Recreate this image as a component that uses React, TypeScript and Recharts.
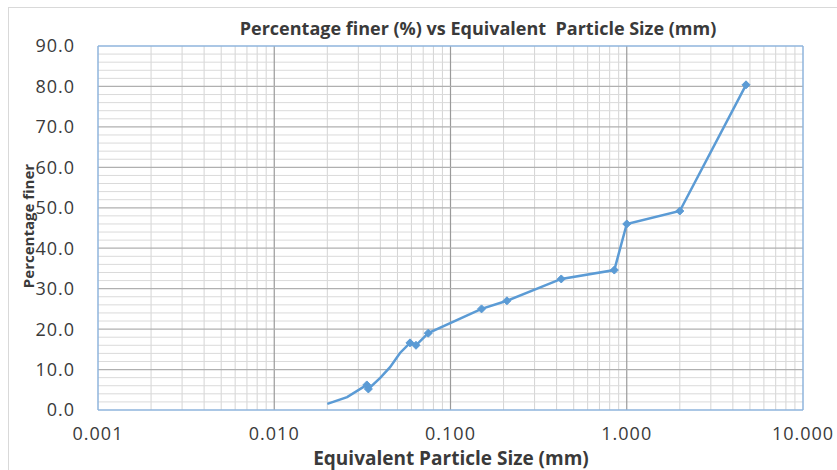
import React from "react";
import { LineChart, Line, XAxis, YAxis, ReferenceLine } from "recharts";

const sizes = [0.020, 0.0259, 0.0335, 0.0342, 0.0398, 0.0454, 0.0517, 0.0589, 0.0637, 0.0748, 0.150, 0.209, 0.425, 0.85, 1.0, 2.0, 4.75];
const finer = [1.5, 3.2, 6.2, 5.2, 7.9, 10.6, 14.1, 16.6, 16.0, 19.0, 25.0, 27.0, 32.4, 34.6, 46.0, 49.2, 80.4];
const marked = [false, false, true, true, false, false, false, true, true, true, true, true, true, true, true, true, true];

const xTicks = [0.001, 0.01, 0.1, 1, 10];
const yTicks = [0, 10, 20, 30, 40, 50, 60, 70, 80, 90];
const xMajorGrid = [0.01, 0.1, 1];
const xMinorGrid = [
  0.002, 0.003, 0.004, 0.005, 0.006, 0.007, 0.008, 0.009,
  0.02, 0.03, 0.04, 0.05, 0.06, 0.07, 0.08, 0.09,
  0.2, 0.3, 0.4, 0.5, 0.6, 0.7, 0.8, 0.9,
  2, 3, 4, 5, 6, 7, 8, 9,
];
const yMajorGrid = [10, 20, 30, 40, 50, 60, 70, 80];
const yMinorGrid = [2, 4, 6, 8, 12, 14, 16, 18, 22, 24, 26, 28, 32, 34, 36, 38, 42, 44, 46, 48, 52, 54, 56, 58, 62, 64, 66, 68, 72, 74, 76, 78, 82, 84, 86, 88];

const data = sizes.map((s, i) => ({ size: s, finer: finer[i], m: marked[i] }));

const LINE = "#5b9bd5";
const BORDER = "#8fb4dc";
const FONT = "'Open Sans', sans-serif";

const Diamond = (props: any) => {
  const { cx, cy, payload, index } = props;
  if (!payload || !payload.m || cx == null || cy == null) return <g key={index} />;
  const r = 4;
  return (
    <path
      key={index}
      d={`M${cx},${cy - r}L${cx + r},${cy}L${cx},${cy + r}L${cx - r},${cy}Z`}
      fill={LINE}
      stroke={LINE}
      strokeWidth={1}
    />
  );
};

export default function App() {
  return (
    <div style={{ position: "absolute", left: 0, top: 0, width: 837, height: 470, background: "#fff", fontFamily: FONT, overflow: "hidden" }}>
      <div style={{ position: "absolute", left: 8, top: 7, width: 840, height: 480, border: "1px solid #d9d9d9", boxSizing: "border-box" }} />
      <LineChart
        width={837}
        height={470}
        data={data}
        margin={{ top: 46, right: 34, bottom: 0, left: 28 }}
      >
        <XAxis
          dataKey="size"
          type="number"
          scale="log"
          domain={[0.001, 10]}
          ticks={xTicks}
          allowDataOverflow
          tickFormatter={(v: number) => v.toFixed(3)}
          height={60}
          tickSize={0}
          tickMargin={17}
          axisLine={{ stroke: BORDER, strokeWidth: 1.5 }}
          tick={{ fill: "#3a3a3a", fontSize: 18, fontFamily: FONT, letterSpacing: 1 }}
        />
        <YAxis
          type="number"
          domain={[0, 90]}
          ticks={yTicks}
          allowDataOverflow
          tickFormatter={(v: number) => v.toFixed(1)}
          width={70}
          tickSize={0}
          tickMargin={23}
          axisLine={{ stroke: BORDER, strokeWidth: 1.5 }}
          tick={{ fill: "#3a3a3a", fontSize: 18, fontFamily: FONT, letterSpacing: 1 }}
        />
        {xMinorGrid.map((v) => (
          <ReferenceLine key={"xm" + v} x={v} stroke="#d4d4d4" strokeWidth={1} />
        ))}
        {yMinorGrid.map((v) => (
          <ReferenceLine key={"ym" + v} y={v} stroke="#dadada" strokeWidth={1} />
        ))}
        {xMajorGrid.map((v) => (
          <ReferenceLine key={"xM" + v} x={v} stroke="#9a9a9a" strokeWidth={1.2} />
        ))}
        {yMajorGrid.map((v) => (
          <ReferenceLine key={"yM" + v} y={v} stroke="#b0b0b0" strokeWidth={1.2} />
        ))}
        <ReferenceLine x={10} stroke={BORDER} strokeWidth={1.5} />
        <ReferenceLine y={90} stroke={BORDER} strokeWidth={1.5} />
        <Line
          dataKey="finer"
          stroke={LINE}
          strokeWidth={2.5}
          type="linear"
          dot={<Diamond />}
          activeDot={false}
          isAnimationActive={false}
        />
      </LineChart>
      <div style={{ position: "absolute", left: 0, width: 956, top: 16, textAlign: "center", fontSize: 18, fontWeight: 700, color: "#3a3a3a", whiteSpace: "pre" }}>
        {"Percentage finer (%) vs Equivalent  Particle Size (mm)"}
      </div>
      <div style={{ position: "absolute", left: 0, width: 902, top: 445, textAlign: "center", fontSize: 19, fontWeight: 700, color: "#3a3a3a", whiteSpace: "nowrap" }}>
        Equivalent Particle Size (mm)
      </div>
      <div style={{ position: "absolute", left: 28, top: 226, width: 0, height: 0 }}>
        <div style={{ position: "absolute", transform: "translate(-50%, -50%) rotate(-90deg)", whiteSpace: "nowrap", fontSize: 15, fontWeight: 700, color: "#3a3a3a" }}>
          Percentage finer
        </div>
      </div>
    </div>
  );
}
